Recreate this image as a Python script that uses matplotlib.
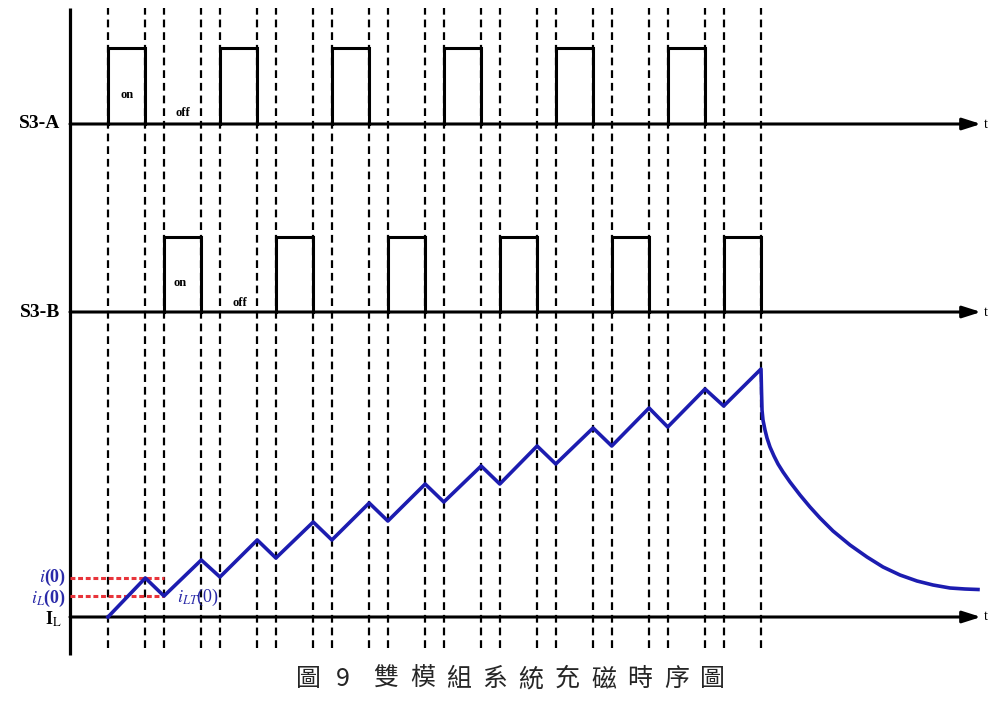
import matplotlib.pyplot as plt
import numpy as np

plt.rcParams['mathtext.fontset'] = 'stix'

# time in units of one on-interval, period = 3
a_on = [0, 3, 6, 9, 12, 15]
b_on = [1.5, 4.5, 7.5, 10.5, 13.5, 16.5]
on_width = 1.0

# inductor current: ramp vertices (rise while a switch is on, fall in the gaps)
t_ramp = [0, 1, 1.5, 2.5, 3, 4, 4.5, 5.5, 6, 7, 7.5, 8.5, 9, 10, 10.5, 11.5,
          12, 13, 13.5, 14.5, 15, 16, 16.5, 17.5]
i_ramp = [0, 1.56, 0.84, 2.28, 1.60, 3.08, 2.36, 3.80, 3.08, 4.56, 3.84, 5.32,
          4.60, 6.04, 5.32, 6.84, 6.12, 7.56, 6.84, 8.36, 7.60, 9.12, 8.44, 9.92]
# discharge after the last pulse
t_decay = [17.513, 17.527, 17.553, 17.607, 17.661, 17.741, 17.848, 17.956, 18.09,
           18.277, 18.545, 18.813, 19.081, 19.43, 19.885, 20.341, 20.77, 21.225,
           21.681, 22.11, 22.565, 22.967, 23.315]
i_decay = [9.08, 8.28, 7.88, 7.48, 7.16, 6.80, 6.44, 6.12, 5.80,
           5.40, 4.88, 4.40, 3.96, 3.44, 2.88, 2.40, 2.00, 1.68,
           1.44, 1.28, 1.16, 1.12, 1.10]

caption = ['圖', '9', '雙', '模', '組', '系', '統', '充', '磁', '時', '序', '圖']

W, H = 995, 703
px_per_t = 653 / 17.5
x0 = 108
xlim = (-x0 / px_per_t, (W - x0) / px_per_t)
t_axis = (70 - x0) / px_per_t
t_tip = (981 - x0) / px_per_t

fig = plt.figure(figsize=(W / 100, H / 100), dpi=100)
bg = fig.add_axes([0, 0, 1, 1])
bg.set_xlim(xlim)
bg.set_ylim(0, 1)
bg.axis('off')

def fy(py):
    return 1 - py / H

ax_a = fig.add_axes([0, fy(124), 1, 76 / H])
ax_b = fig.add_axes([0, fy(312), 1, 75 / H])
ax_i = fig.add_axes([0, fy(617), 1, 250 / H])
for ax in (ax_a, ax_b, ax_i):
    ax.set_xlim(xlim)
    ax.axis('off')
ax_a.set_ylim(0, 1)
ax_b.set_ylim(0, 1)
ax_i.set_ylim(0, 10)

# dashed switching instants
for t in t_ramp:
    bg.axvline(t, ymin=fy(648), ymax=fy(8), color='k', lw=1.6,
               ls=(0, (3.5, 2.2)), zorder=1)
# vertical axis
bg.plot([t_axis, t_axis], [fy(655), fy(8)], color='k', lw=2.3, solid_capstyle='butt')

# time axes with arrows
for ax in (ax_a, ax_b, ax_i):
    ax.annotate('', xy=(t_tip, 0), xytext=(t_axis, 0), annotation_clip=False,
                arrowprops=dict(arrowstyle='-|>,head_length=1.1,head_width=0.35',
                                lw=2.2, color='k', shrinkA=0, shrinkB=0,
                                mutation_scale=10))
    ax.text(t_tip + 0.08, 0, 't', fontsize=10, family='Liberation Serif',
            va='center', ha='left', clip_on=False)

# switch pulses
for ax, starts in ((ax_a, a_on), (ax_b, b_on)):
    for s in starts:
        ax.plot([s, s, s + on_width, s + on_width], [0, 1, 1, 0], color='k', lw=2.2,
                solid_joinstyle='miter', clip_on=False)

# inductor current
ax_i.plot(t_ramp + t_decay, i_ramp + i_decay, color='#1c1cb0', lw=2.6,
          solid_joinstyle='round', clip_on=False, zorder=5)

# red reference levels
for lvl in (i_ramp[1], i_ramp[2]):
    ax_i.plot([t_axis, t_ramp[2]], [lvl, lvl], color='#e8343a', lw=2.2,
              ls=(0, (1.6, 0.9)), clip_on=False, zorder=3)

serif = 'Liberation Serif'
ax_a.text(0.51, 0.38, 'on', fontsize=9, fontweight='bold', family=serif,
          ha='center', va='center')
ax_a.text(2.01, 0.15, 'off', fontsize=9, fontweight='bold', family=serif,
          ha='center', va='center')
ax_b.text(1.93, 0.39, 'on', fontsize=9, fontweight='bold', family=serif,
          ha='center', va='center')
ax_b.text(3.54, 0.12, 'off', fontsize=9, fontweight='bold', family=serif,
          ha='center', va='center')

fig.text(60 / W, fy(124), 'S3-A', fontsize=14, fontweight='bold', family=serif,
         ha='right', va='center')
fig.text(60 / W, fy(312), 'S3-B', fontsize=14, fontweight='bold', family=serif,
         ha='right', va='center')

blue = '#2a2aa8'
fig.text(66 / W, fy(577), r'$i$(0)', fontsize=13, fontweight='bold', family=serif,
         color=blue, ha='right', va='center')
fig.text(66 / W, fy(598), r'$i_L$(0)', fontsize=13, fontweight='bold', family=serif,
         color=blue, ha='right', va='center')
fig.text(62 / W, fy(619), r'I$_\mathrm{L}$', fontsize=13, fontweight='bold', family=serif,
         ha='right', va='center')
fig.text(177 / W, fy(597), r'$i_{LT}$(0)', fontsize=13, family=serif,
         color=blue, ha='left', va='center')

# caption, spaced out character by character
cap_x = [308, 343] + [386 + 36.3 * k for k in range(10)]
for ch, cx in zip(caption, cap_x):
    fig.text(cx / W, fy(679), ch, fontsize=18,
             family=['Noto Sans CJK TC', 'DejaVu Sans'], color='#262626',
             ha='center', va='center')

fig.savefig('out.png', dpi=100)
